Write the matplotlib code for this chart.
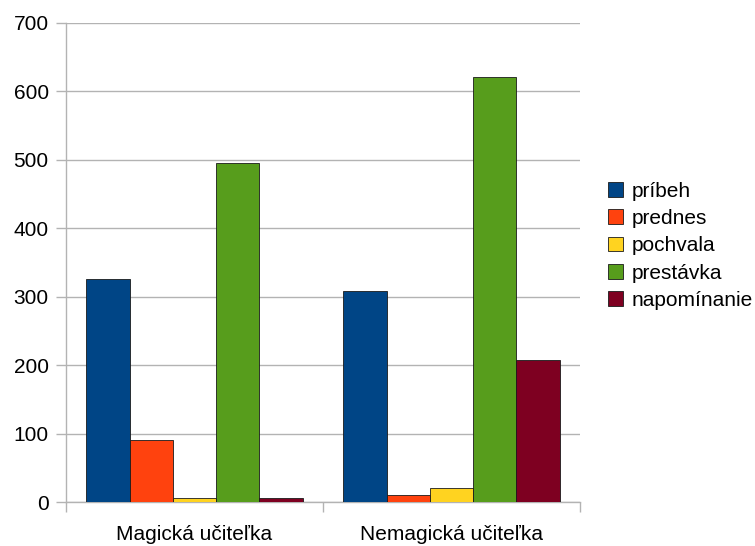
import matplotlib.pyplot as plt
import numpy as np

plt.rcParams['font.family'] = ['Liberation Sans', 'DejaVu Sans']

groups = ["Magická učiteľka", "Nemagická učiteľka"]
series = ["príbeh", "prednes", "pochvala", "prestávka", "napomínanie"]
values = [
    [326, 309],   # príbeh
    [90, 10],     # prednes
    [6, 21],      # pochvala
    [495, 621],   # prestávka
    [6, 207],     # napomínanie
]
colors = ["#004586", "#ff420e", "#ffd320", "#579d1c", "#7e0021"]

fig = plt.figure(figsize=(7.55, 5.46), dpi=100)
ax = fig.add_axes([66 / 755, 44 / 546, 514 / 755, 479 / 546])

x = np.arange(len(groups))
w = 0.1686
for i, (name, vals) in enumerate(zip(series, values)):
    ax.bar(x + (i - 2) * w, vals, w, color=colors[i], edgecolor="#1a1a1a",
           linewidth=0.6, label=name, zorder=3)

ax.set_xlim(-0.5, 1.5)
ax.set_ylim(0, 700)
ax.set_yticks(range(0, 701, 100))
ax.set_xticks(x)
ax.set_xticklabels(groups)
ax.set_xticks([-0.5, 0.5, 1.5], minor=True)

grid_c = "#b3b3b3"
ax.grid(axis="y", color=grid_c, linewidth=1, zorder=0)
for s in ["top", "right"]:
    ax.spines[s].set_visible(False)
for s in ["left", "bottom"]:
    ax.spines[s].set_color(grid_c)
    ax.spines[s].set_linewidth(1)

ax.tick_params(axis="y", length=7, color=grid_c, width=1, labelsize=15, pad=5.5)
ax.tick_params(axis="x", which="major", length=0, labelsize=15, pad=16.5)
ax.tick_params(axis="x", which="minor", length=7, color=grid_c, width=1)

ax.legend(loc="center left", bbox_to_anchor=(1.0545, 0.535), frameon=False,
          fontsize=15, handlelength=0.7, handleheight=0.7, handletextpad=0.45,
          labelspacing=0.4, borderaxespad=0, borderpad=0)

fig.savefig("out.png", dpi=100)
